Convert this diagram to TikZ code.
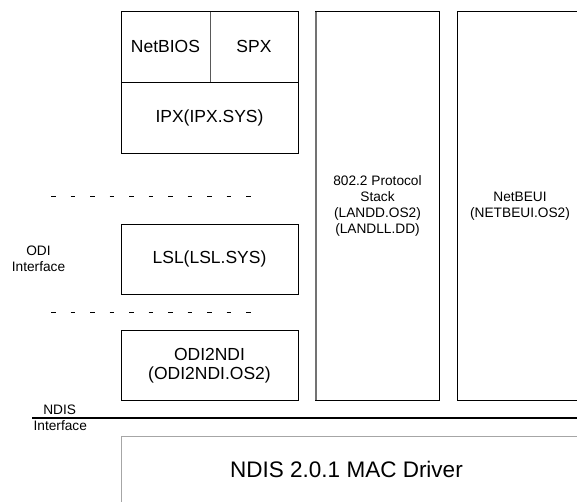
\documentclass[tikz,border=0pt]{standalone}
\usepackage{fontspec}
\setmainfont{Liberation Sans}
\begin{document}
\begin{tikzpicture}[x=1pt,y=-1pt,
  layer/.style={draw=black,line width=1pt,inner sep=0pt,align=center,
    font=\fontsize{17.5}{19}\selectfont},
  smalltxt/.style={inner sep=0pt,align=center,font=\fontsize{13.7}{16.2}\selectfont},
  boundary/.style={line width=0.9pt,dash pattern=on 4.5pt off 15pt},
]
\useasboundingbox (0,0) rectangle (577,501);
\clip (0,0) rectangle (577,501);

% Novell IPX stack on the left
\draw[layer] (121,11.5) coordinate (ipxtl) rectangle (298,153) coordinate (ipxbr);
\draw[line width=1pt,black] (121,82.3) -- (298,82.3);
\draw[line width=1pt,black!65] (210,11.5) -- (210,82.3);
\node[layer,draw=none] (netbios) at (165.5,46.9) {NetBIOS};
\node[layer,draw=none] (spx) at (254,46.9) {SPX};
\node[layer,draw=none] (ipx) at (209.5,117.7) {IPX(IPX.SYS)};

% ODI interface boundaries and LSL
\coordinate (d1a) at (51,196.5);
\coordinate (d1b) at (252,196.5);
\coordinate (d2a) at (51,312);
\coordinate (d2b) at (252,312);
\draw[boundary] (d1a) -- (d1b);
\draw[boundary] (d2a) -- (d2b);
\node[smalltxt] (odi) at (38.5,258.5) {ODI\\Interface};

\node[layer,minimum width=177pt,minimum height=70.3pt] (lsl) at (209.5,259.2) {LSL(LSL.SYS)};
\node[layer,minimum width=177pt,minimum height=70.3pt] (odi2ndi) at (209.5,365.2)
  {ODI2NDI\\(ODI2NDI.OS2)};

% 802.2 and NetBEUI stacks
\node[layer,font=\fontsize{13.7}{16.2}\selectfont,minimum width=123.6pt,minimum height=388.6pt]
  (llc) at (377.5,206) {802.2 Protocol\\Stack\\(LANDD.OS2)\\(LANDLL.DD)};
\draw[line width=1.6pt,black!55] (315.7,11.5) -- (315.7,400.3);
\node[layer,font=\fontsize{13.7}{16.2}\selectfont,minimum width=126pt,minimum height=388.6pt]
  (netbeui) at (520,206) {NetBEUI\\(NETBEUI.OS2)};

% NDIS interface
\coordinate (ndisL) at (32,417.8);
\coordinate (ndisR) at (577,417.8);
\draw[line width=1.8pt] (ndisL) -- (ndisR);
\node[smalltxt] (ndis) at (59.7,409.3) {NDIS};
\node[smalltxt] (ndisif) at (60.3,426) {Interface};

% MAC driver
\draw[line width=1pt,black!35] (121,502) -- (121,436) -- (583,436) -- (583,502);
\node[inner sep=0pt,font=\fontsize{22.5}{25}\selectfont] (mac) at (346.5,469) {NDIS 2.0.1 MAC Driver};
\end{tikzpicture}
\end{document}
